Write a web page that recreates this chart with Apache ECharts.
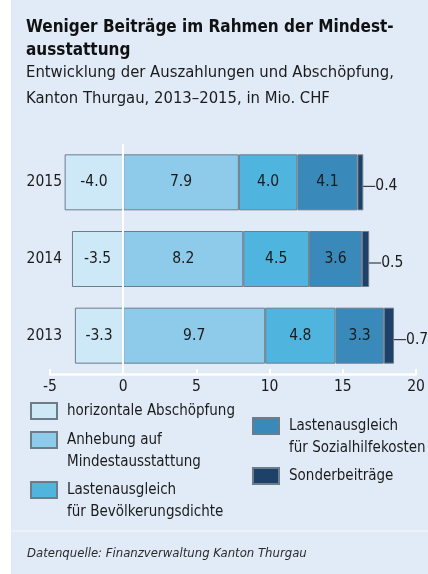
<!DOCTYPE html>
<html>
<head>
<meta charset="utf-8">
<script src="https://cdn.jsdelivr.net/npm/echarts@6/dist/echarts.min.js"></script>
<style>
  html, body { margin: 0; padding: 0; background: #fff; }
  #chart { width: 428px; height: 574px; }
</style>
</head>
<body>
<div id="chart"></div>
<script>
// Werte in Mio. CHF
const years = ['2013', '2014', '2015'];
const abschoepfung = [-3.3, -3.5, -4.0];
const anhebung = [9.7, 8.2, 7.9];
const bevDichte = [4.8, 4.5, 4.0];
const sozialhilfe = [3.3, 3.6, 4.1];
const sonder = [0.7, 0.5, 0.4];
const xTicks = [-5, 20, 5]; // min, max, interval

const FONT = '"DejaVu Sans Condensed", "Liberation Sans Narrow", sans-serif';
const TXT = '#1b1b1b';
const BORDER = '#6c7c89';

const names = [
  'horizontale Abschöpfung',
  'Anhebung auf\nMindestausstattung',
  'Lastenausgleich\nfür Bevölkerungsdichte',
  'Lastenausgleich\nfür Sozialhilfekosten',
  'Sonderbeiträge'
];
const colors = ['#cde9f8', '#8ecae9', '#4fb4de', '#3a89bb', '#1e4169'];
const values = [abschoepfung, anhebung, bevDichte, sozialhilfe, sonder];

let chart = echarts.init(document.getElementById('chart'));

const series = values.map((vals, i) => {
  let s = {
    name: names[i],
    type: 'bar',
    stack: 'total',
    barWidth: 56,
    data: vals,
    itemStyle: { color: colors[i], borderColor: BORDER, borderWidth: 1 },
    label: {
      show: true,
      position: 'inside',
      color: TXT,
      fontFamily: FONT,
      fontSize: 15.5,
      formatter: (p) => p.value.toFixed(1)
    }
  };
  if (i == 4) {
    // kleine Werte ausserhalb mit Hinweislinie
    s.label.position = 'right';
    s.label.distance = 3;
    s.labelLayout = { dx: 9, dy: 4 };
    s.labelLine = { show: true, lineStyle: { color: TXT, width: 1 } };
  }
  if (i == 0) {
    s.markLine = {
      silent: true,
      symbol: 'none',
      label: { show: false },
      lineStyle: { color: '#ffffff', width: 2, type: 'solid' },
      data: [{ xAxis: 0 }],
      z: 10
    };
  }
  return s;
});

// eine Legende pro Eintrag, damit die Symbole an der ersten Zeile stehen
function legendItem(name, left, top, twoLines) {
  return {
    data: [name],
    left: left,
    top: top,
    orient: 'vertical',
    padding: 0,
    itemWidth: 26,
    itemHeight: 16,
    icon: 'rect',
    selectedMode: false,
    // Leerzeile oben: so sitzt die erste Textzeile auf Höhe des Symbols
    formatter: twoLines ? (n) => '\n' + n : (n) => n,
    textStyle: {
      color: TXT,
      fontFamily: FONT,
      fontSize: 15,
      lineHeight: 22,
      padding: [0, 0, 0, 5]
    }
  };
}

let option = {
  backgroundColor: '#ffffff',
  animation: false,
  graphic: [
    {
      type: 'rect',
      shape: { x: 11, y: 0, width: 417, height: 574 },
      style: { fill: '#e1ebf7' },
      z: -10
    },
    {
      type: 'line',
      shape: { x1: 11, y1: 531, x2: 428, y2: 531 },
      style: { stroke: '#f4f8fc', lineWidth: 1 },
      z: -9
    }
  ],
  title: [
    {
      text: 'Weniger Beiträge im Rahmen der Mindest-\nausstattung',
      subtext: 'Entwicklung der Auszahlungen und Abschöpfung,\nKanton Thurgau, 2013–2015, in Mio. CHF',
      left: 26,
      top: 16,
      padding: 0,
      itemGap: -2,
      textStyle: { color: '#111', fontFamily: FONT, fontWeight: 'bold', fontSize: 17, lineHeight: 23 },
      subtextStyle: { color: TXT, fontFamily: FONT, fontSize: 16.5, lineHeight: 26 }
    },
    {
      text: 'Datenquelle: Finanzverwaltung Kanton Thurgau',
      left: 27,
      top: 547,
      padding: 0,
      textStyle: { color: '#2a2a2a', fontFamily: FONT, fontStyle: 'italic', fontWeight: 'normal', fontSize: 13 }
    }
  ],
  legend: [
    legendItem(names[0], 30, 400, false),
    legendItem(names[1], 30, 407, true),
    legendItem(names[2], 30, 457, true),
    legendItem(names[3], 252, 393, true),
    legendItem(names[4], 252, 465, false)
  ],
  grid: {
    left: 50,
    right: 12,
    top: 144,
    height: 230
  },
  xAxis: {
    type: 'value',
    min: xTicks[0],
    max: xTicks[1],
    interval: xTicks[2],
    splitLine: { show: false },
    axisLine: { show: true, onZero: false, lineStyle: { color: '#ffffff', width: 2.5 } },
    axisTick: { show: true, inside: true, length: 5, lineStyle: { color: '#ffffff', width: 2 } },
    axisLabel: { color: TXT, fontFamily: FONT, fontSize: 15.5, margin: 5 }
  },
  yAxis: {
    type: 'category',
    data: years,
    axisLine: { show: false, onZero: false },
    axisTick: { show: false },
    axisLabel: { color: TXT, fontFamily: FONT, fontSize: 15.5, margin: -12 }
  },
  series: series
};
chart.setOption(option);
</script>
</body>
</html>
